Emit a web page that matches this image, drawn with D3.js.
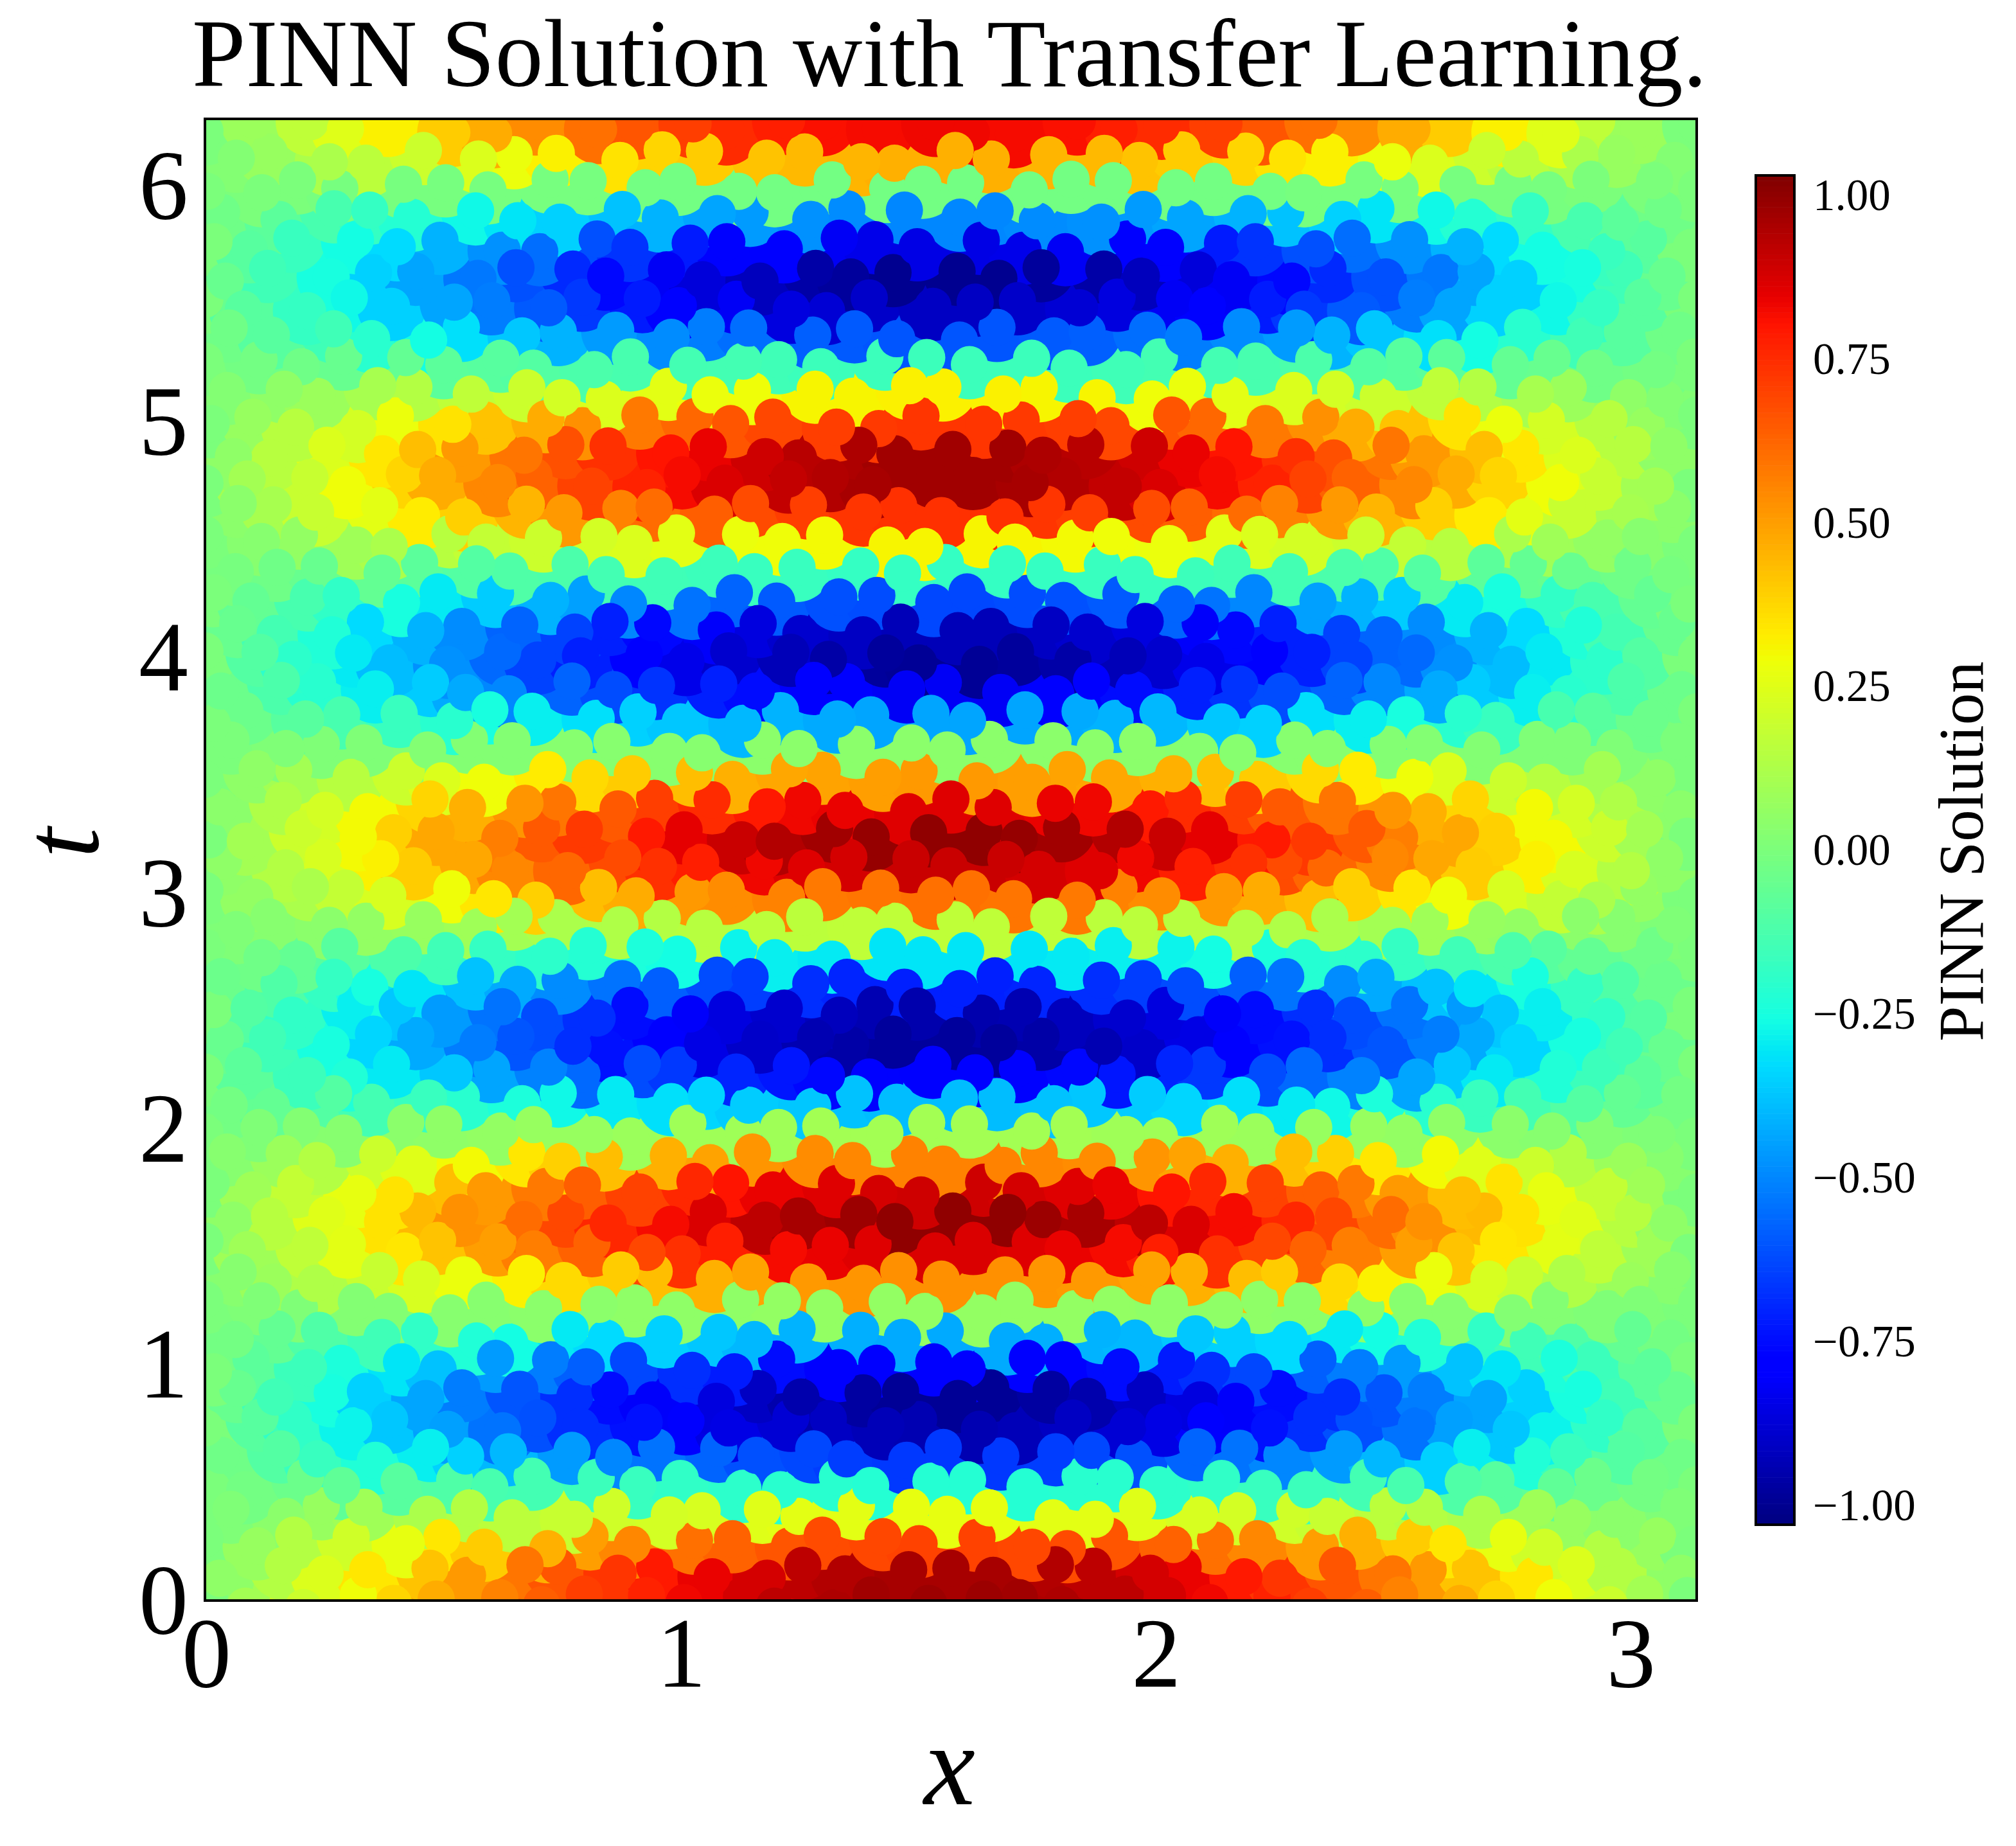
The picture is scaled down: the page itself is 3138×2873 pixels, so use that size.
<!DOCTYPE html>
<html><head><meta charset="utf-8">
<script src="https://cdn.jsdelivr.net/npm/d3@7"></script>
<style>html,body{margin:0;padding:0;background:#fff}svg{display:block}text{font-family:"Liberation Serif",serif;fill:#000}</style>
</head><body><div id="chart"></div>
<script>
const titleText="PINN Solution with Transfer Learning.";
const xLabel="x", tLabel="t", cbLabel="PINN Solution";
const xTicks=[0,1,2,3], tTicks=[0,1,2,3,4,5,6];
const cbTicks=[-1,-0.75,-0.5,-0.25,0,0.25,0.5,0.75,1];
const tValues=[0,.125,.25,.375,.5,.625,.75,.875,1,1.125,1.25,1.375,1.5,1.625,1.75,1.875,2,2.125,2.25,2.375,2.5,2.625,2.75,2.875,3,3.125,3.25,3.375,3.5,3.625,3.75,3.875,4,4.125,4.25,4.375,4.5,4.625,4.75,4.875,5,5.125,5.25,5.375,5.5,5.625,5.75,5.875,6,6.125,6.25];
const xEven=[0,.101,.203,.304,.405,.507,.608,.709,.811,.912,1.013,1.115,1.216,1.317,1.419,1.52,1.622,1.723,1.824,1.925,2.027,2.128,2.229,2.331,2.432,2.533,2.635,2.736,2.837,2.939,3.04,3.142];
const xOdd=[.051,.152,.253,.355,.456,.557,.659,.76,.861,.963,1.064,1.165,1.267,1.368,1.469,1.571,1.672,1.773,1.875,1.976,2.077,2.179,2.28,2.381,2.483,2.584,2.685,2.787,2.888,2.989,3.091];
const xWobble=[.009,-.016,.004,.019,-.008,-.02,.013,0,-.012,.018,-.004,.015,-.017];
const tWobble=[.018,-.012,.027,-.024,.006,.021,-.03,.012,-.009,.024,-.018];
// PINN solution, in hundredths, one row per tValues entry
const uRows=[
[0,10,20,29,38,47,56,64,71,77,83,88,92,95,97,98,98,97,95,92,88,83,77,71,64,56,47,38,29,20,10,0],
[5,14,24,34,42,51,59,66,73,79,84,88,92,94,96,96,96,94,92,88,84,79,73,66,59,51,42,34,24,14,5],
[0,7,14,21,27,34,40,46,50,55,60,63,66,68,69,70,70,69,68,66,63,60,55,50,46,40,34,27,21,14,7,0],
[1,4,7,9,12,14,16,19,21,22,23,25,26,26,27,27,27,26,26,25,23,22,21,19,16,14,12,9,7,4,1],
[0,-2,-4,-7,-9,-11,-13,-14,-16,-17,-19,-20,-21,-21,-22,-22,-22,-22,-21,-21,-20,-19,-17,-16,-14,-13,-11,-9,-7,-4,-2,0],
[-3,-10,-17,-23,-29,-35,-40,-46,-50,-54,-57,-61,-63,-65,-66,-66,-66,-65,-63,-61,-57,-54,-50,-46,-40,-35,-29,-23,-17,-10,-3],
[0,-9,-19,-28,-37,-45,-54,-61,-68,-74,-80,-85,-88,-91,-93,-94,-94,-93,-91,-88,-85,-80,-74,-68,-61,-54,-45,-37,-28,-19,-9,0],
[-5,-15,-25,-35,-44,-52,-60,-68,-75,-81,-86,-91,-95,-97,-99,-99,-99,-97,-95,-91,-86,-81,-75,-68,-60,-52,-44,-35,-25,-15,-5],
[0,-8,-16,-24,-31,-38,-46,-52,-58,-63,-68,-72,-75,-78,-79,-80,-80,-79,-78,-75,-72,-68,-63,-58,-52,-46,-38,-31,-24,-16,-8,0],
[-2,-6,-11,-15,-19,-23,-26,-30,-33,-35,-37,-40,-41,-42,-43,-43,-43,-42,-41,-40,-37,-35,-33,-30,-26,-23,-19,-15,-11,-6,-2],
[0,1,1,2,2,3,3,4,4,5,5,5,6,6,6,6,6,6,6,6,5,5,5,4,4,3,3,2,2,1,1,0],
[3,8,13,19,23,28,32,37,40,43,46,49,51,52,53,53,53,52,51,49,46,43,40,37,32,28,23,19,13,8,3],
[0,9,17,26,34,42,50,57,63,69,74,78,82,84,86,87,87,86,84,82,78,74,69,63,57,50,42,34,26,17,9,0],
[5,15,25,35,44,53,61,69,76,82,87,92,96,98,100,100,100,98,96,92,87,82,76,69,61,53,44,35,25,15,5],
[0,9,18,27,35,43,51,58,64,70,76,80,84,86,88,89,89,88,86,84,80,76,70,64,58,51,43,35,27,18,9,0],
[3,8,14,20,25,30,34,39,43,46,49,52,54,55,56,56,56,55,54,52,49,46,43,39,34,30,25,20,14,8,3],
[0,1,2,3,4,5,6,7,7,8,9,9,9,10,10,10,10,10,10,9,9,9,8,7,7,6,5,4,3,2,1,0],
[-2,-6,-10,-14,-17,-21,-24,-27,-30,-32,-34,-36,-37,-38,-39,-39,-39,-38,-37,-36,-34,-32,-30,-27,-24,-21,-17,-14,-10,-6,-2],
[0,-8,-16,-23,-30,-37,-44,-51,-56,-62,-66,-70,-73,-76,-77,-78,-78,-77,-76,-73,-70,-66,-62,-56,-51,-44,-37,-30,-23,-16,-8,0],
[-5,-15,-25,-34,-43,-52,-60,-68,-74,-80,-85,-90,-94,-96,-98,-98,-98,-96,-94,-90,-85,-80,-74,-68,-60,-52,-43,-34,-25,-15,-5],
[0,-10,-19,-29,-37,-46,-54,-62,-68,-75,-81,-86,-89,-92,-94,-95,-95,-94,-92,-89,-86,-81,-75,-68,-62,-54,-46,-37,-29,-19,-10,0],
[-4,-11,-18,-25,-31,-38,-43,-49,-54,-58,-62,-65,-68,-70,-71,-71,-71,-70,-68,-65,-62,-58,-54,-49,-43,-38,-31,-25,-18,-11,-4],
[0,-3,-6,-9,-12,-15,-18,-20,-22,-24,-26,-28,-29,-30,-31,-31,-31,-31,-30,-29,-28,-26,-24,-22,-20,-18,-15,-12,-9,-6,-3,0],
[1,3,4,6,7,9,10,12,13,14,15,16,16,17,17,17,17,17,16,16,15,14,13,12,10,9,7,6,4,3,1],
[0,6,12,18,23,29,34,39,43,47,51,54,56,58,59,60,60,59,58,56,54,51,47,43,39,34,29,23,18,12,6,0],
[5,14,23,32,40,48,55,62,68,74,78,83,86,88,90,90,90,88,86,83,78,74,68,62,55,48,40,32,23,14,5],
[0,10,20,30,39,48,57,65,72,79,85,90,94,97,99,100,100,99,97,94,90,85,79,72,65,57,48,39,30,20,10,0],
[4,13,22,30,38,46,52,59,65,71,75,79,83,84,86,86,86,84,83,79,75,71,65,59,52,46,38,30,22,13,4],
[0,5,10,15,20,24,29,33,37,40,43,46,48,49,50,51,51,50,49,48,46,43,40,37,33,29,24,20,15,10,5,0],
[0,1,1,1,2,2,2,3,3,3,3,4,4,4,4,4,4,4,4,4,3,3,3,3,2,2,2,1,1,1,0],
[0,-4,-9,-13,-17,-21,-25,-29,-32,-35,-37,-40,-41,-43,-44,-44,-44,-44,-43,-41,-40,-37,-35,-32,-29,-25,-21,-17,-13,-9,-4,0],
[-4,-12,-21,-29,-36,-43,-50,-57,-62,-67,-71,-75,-79,-80,-82,-82,-82,-80,-79,-75,-71,-67,-62,-57,-50,-43,-36,-29,-21,-12,-4],
[0,-10,-20,-30,-39,-48,-56,-64,-71,-78,-84,-89,-93,-96,-98,-99,-99,-98,-96,-93,-89,-84,-78,-71,-64,-56,-48,-39,-30,-20,-10,0],
[-5,-14,-23,-33,-41,-49,-57,-64,-71,-76,-81,-86,-89,-91,-93,-93,-93,-91,-89,-86,-81,-76,-71,-64,-57,-49,-41,-33,-23,-14,-5],
[0,-6,-13,-19,-25,-30,-36,-41,-45,-50,-54,-57,-59,-61,-62,-63,-63,-62,-61,-59,-57,-54,-50,-45,-41,-36,-30,-25,-19,-13,-6,0],
[-1,-3,-5,-6,-8,-10,-11,-12,-14,-15,-16,-17,-17,-18,-18,-18,-18,-18,-17,-17,-16,-15,-14,-12,-11,-10,-8,-6,-5,-3,-1],
[0,3,6,9,12,15,18,20,22,24,26,28,29,30,31,31,31,31,30,29,28,26,24,22,20,18,15,12,9,6,3,0],
[4,11,19,26,33,39,45,51,56,61,64,68,71,73,74,74,74,73,71,68,64,61,56,51,45,39,33,26,19,11,4],
[0,10,19,29,38,47,55,63,70,77,82,87,91,94,96,97,97,96,94,91,87,82,77,70,63,55,47,38,29,19,10,0],
[5,15,24,34,43,51,59,67,74,80,84,89,93,95,97,97,97,95,93,89,84,80,74,67,59,51,43,34,24,15,5],
[0,7,15,22,28,35,42,47,53,58,62,66,69,71,72,73,73,72,71,69,66,62,58,53,47,42,35,28,22,15,7,0],
[2,5,8,11,14,17,20,22,24,26,28,29,31,31,32,32,32,31,31,29,28,26,24,22,20,17,14,11,8,5,2],
[0,-2,-3,-5,-6,-8,-9,-10,-12,-13,-14,-14,-15,-16,-16,-16,-16,-16,-16,-15,-14,-14,-13,-12,-10,-9,-8,-6,-5,-3,-2,0],
[-3,-9,-15,-21,-26,-32,-37,-41,-46,-49,-52,-55,-58,-59,-60,-60,-60,-59,-58,-55,-52,-49,-46,-41,-37,-32,-26,-21,-15,-9,-3],
[0,-9,-18,-27,-35,-44,-52,-59,-66,-72,-77,-82,-86,-88,-90,-91,-91,-90,-88,-86,-82,-77,-72,-66,-59,-52,-44,-35,-27,-18,-9,0],
[-5,-15,-25,-35,-44,-53,-61,-69,-76,-82,-87,-92,-96,-98,-100,-100,-100,-98,-96,-92,-87,-82,-76,-69,-61,-53,-44,-35,-25,-15,-5],
[0,-9,-17,-26,-33,-41,-48,-55,-61,-67,-72,-77,-80,-82,-84,-85,-85,-84,-82,-80,-77,-72,-67,-61,-55,-48,-41,-33,-26,-17,-9,0],
[-3,-8,-13,-18,-22,-27,-31,-35,-38,-41,-44,-46,-48,-49,-50,-50,-50,-49,-48,-46,-44,-41,-38,-35,-31,-27,-22,-18,-13,-8,-3],
[0,0,0,-1,-1,-1,-1,-1,-1,-2,-2,-2,-2,-2,-2,-2,-2,-2,-2,-2,-2,-2,-2,-1,-1,-1,-1,-1,-1,0,0,0],
[2,7,12,16,20,24,28,32,35,38,40,42,44,45,46,46,46,45,44,42,40,38,35,32,28,24,20,16,12,7,2],
[0,8,17,25,32,40,47,54,60,66,71,75,78,81,82,83,83,82,81,78,75,71,66,60,54,47,40,32,25,17,8,0]
];

const W=3138,H=2873;
const plot={l:319,r:2641,t:185,b:2491};
const bar={l:2733,r:2793,t:273,b:2373};
const xS=d3.scaleLinear().domain([0,Math.PI]).range([plot.l,plot.r]);
const tS=d3.scaleLinear().domain([0,2*Math.PI]).range([plot.b,plot.t]);
const uDomain=[-1.03,1.03];
const uNorm=d3.scaleLinear().domain(uDomain).range([0,1]).clamp(true);
const red=d3.scaleLinear().domain([0,.35,.66,.89,1]).range([0,0,1,1,.5]);
const green=d3.scaleLinear().domain([0,.125,.375,.64,.91,1]).range([0,0,1,1,0,0]);
const blue=d3.scaleLinear().domain([0,.11,.34,.65,1]).range([.5,1,1,0,0]);
const jet=v=>{const n=uNorm(v);return d3.rgb(red(n)*255,green(n)*255,blue(n)*255).formatHex();};

const points=[];
uRows.forEach((row,i)=>{
  const xs=row.length===32?xEven:xOdd;
  row.forEach((u,j)=>{
    const k=i*row.length+j;
    points.push({i,j,
      x:Math.min(Math.PI,Math.max(0,xs[j]+xWobble[k%xWobble.length])),
      t:tValues[i]+tWobble[(k*3+i)%tWobble.length],
      u:u/100,order:(i*17+j*29)%53});
  });
});

const svg=d3.select("#chart").append("svg").attr("width",W).attr("height",H).attr("viewBox",`0 0 ${W} ${H}`);
svg.append("defs").append("clipPath").attr("id","plotClip").append("rect")
  .attr("x",plot.l).attr("y",plot.t).attr("width",plot.r-plot.l).attr("height",plot.b-plot.t);

const field=svg.append("g").attr("clip-path","url(#plotClip)");
field.append("g").selectAll("circle").data(points).join("circle")
  .attr("cx",d=>xS(d.x)).attr("cy",d=>tS(d.t)).attr("r",54).attr("fill",d=>jet(d.u));
field.append("g").selectAll("circle").data(d3.sort(points,d=>d.order)).join("circle")
  .attr("cx",d=>xS(d.x)).attr("cy",d=>tS(d.t)).attr("r",29).attr("fill",d=>jet(d.u));

svg.append("rect").attr("x",plot.l).attr("y",plot.t).attr("width",plot.r-plot.l).attr("height",plot.b-plot.t)
  .attr("fill","none").attr("stroke","#000").attr("stroke-width",4);

const xAxis=svg.append("g").attr("transform",`translate(2,${plot.b})`)
  .call(d3.axisBottom(xS).tickValues(xTicks).tickFormat(d3.format("d")).tickSize(0));
xAxis.select(".domain").remove();
xAxis.selectAll("text").attr("y",134).attr("dy",0).attr("font-size",154).style("font-family",'"Liberation Serif",serif');

const yAxis=svg.append("g").attr("transform",`translate(${plot.l},0)`)
  .call(d3.axisLeft(tS).tickValues(tTicks).tickFormat(d3.format("d")).tickSize(0));
yAxis.select(".domain").remove();
yAxis.selectAll("text").attr("x",-26).attr("dy",".33em").attr("font-size",154).style("font-family",'"Liberation Serif",serif');

svg.append("text").attr("x",1478).attr("y",134).attr("text-anchor","middle").attr("font-size",150).attr("textLength",2358).text(titleText);
svg.append("text").attr("x",1478).attr("y",2808).attr("text-anchor","middle").attr("font-size",180).attr("font-style","italic").text(xLabel);
svg.append("text").attr("transform",`translate(152,1312) rotate(-90)`).attr("text-anchor","middle").attr("font-size",170).attr("font-style","italic").text(tLabel);

const cS=d3.scaleLinear().domain(uDomain).range([bar.b,bar.t]);
const cLevels=d3.range(256);
const cStep=(uDomain[1]-uDomain[0])/256;
svg.append("g").selectAll("rect").data(cLevels).join("rect")
  .attr("x",bar.l).attr("width",bar.r-bar.l)
  .attr("y",d=>cS(uDomain[0]+(d+1)*cStep)).attr("height",d=>cS(uDomain[0]+d*cStep)-cS(uDomain[0]+(d+1)*cStep)+.6)
  .attr("fill",d=>jet(uDomain[0]+(d+.5)*cStep));
svg.append("rect").attr("x",bar.l).attr("y",bar.t).attr("width",bar.r-bar.l).attr("height",bar.b-bar.t)
  .attr("fill","none").attr("stroke","#000").attr("stroke-width",4);
const cAxis=svg.append("g").attr("transform",`translate(${bar.r},0)`)
  .call(d3.axisRight(cS).tickValues(cbTicks).tickFormat(d3.format(".2f")).tickSize(0));
cAxis.select(".domain").remove();
cAxis.selectAll("text").attr("x",29).attr("dy",".33em").attr("font-size",69).style("font-family",'"Liberation Serif",serif');
svg.append("text").attr("transform",`translate(3086,1325) rotate(-90)`).attr("text-anchor","middle").attr("font-size",99).text(cbLabel);
</script></body></html>
